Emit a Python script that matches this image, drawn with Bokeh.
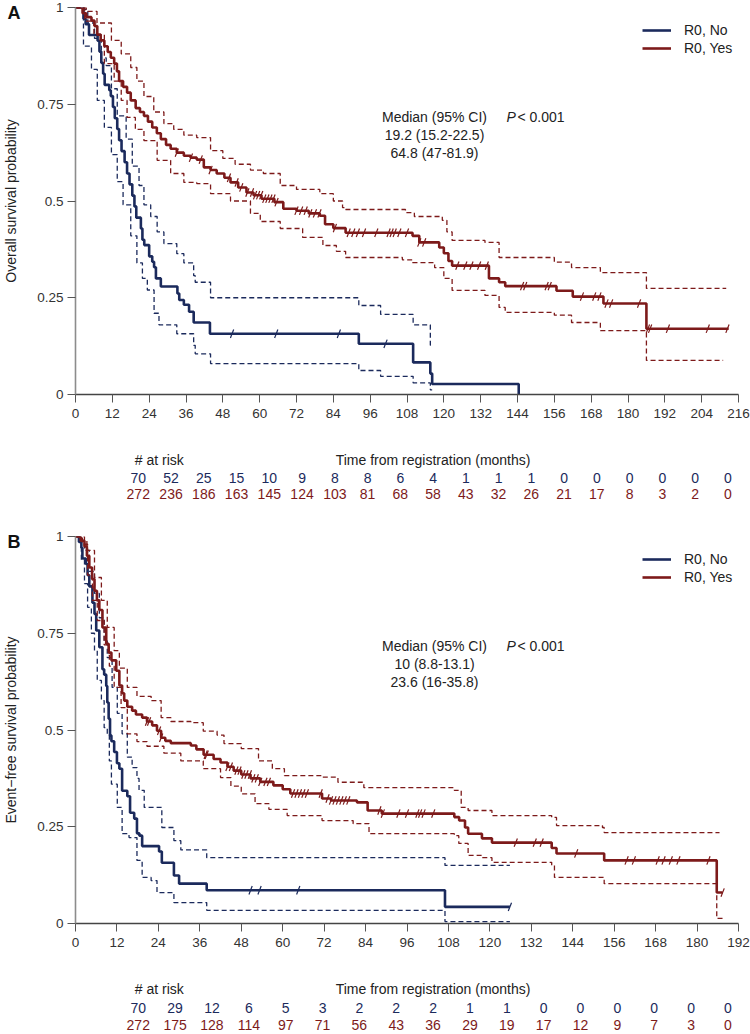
import numpy as np
from bokeh.plotting import figure
from bokeh.layouts import column
from bokeh.models import Range1d, FixedTicker, Legend, LegendItem, Label
from bokeh.embed import file_html
from bokeh.resources import INLINE
from bokeh.core.properties import value

# ---------------- Panel A: overall survival ----------------
A_TICKS = list(range(0, 217, 12))
A_RISK_NO = [70, 52, 25, 15, 10, 9, 8, 8, 6, 4, 1, 1, 1, 0, 0, 0, 0, 0, 0]
A_RISK_YES = [272, 236, 186, 163, 145, 124, 103, 81, 68, 58, 43, 32, 26, 21, 17, 8, 3, 2, 0]
A_MEDIANS = ["19.2 (15.2-22.5)", "64.8 (47-81.9)"]

A_NO_T = [0, 2.6, 3.3, 4.4, 7.2, 7.8, 8.4, 9.0, 9.5, 11.0,
          11.5, 12.2, 12.8, 13.6, 14.2, 15.0, 16.0, 16.8, 17.6, 18.5,
          19.2, 19.8, 21.3, 21.8, 22.4, 24.0, 25.0, 25.6, 26.2, 27.8,
          33.2, 33.8, 35.3, 37.0, 38.5, 43.8, 92.3, 110.0, 115.6, 116.2,
          144.4]
A_NO_S = [1.0, 0.971, 0.957, 0.929, 0.914, 0.886, 0.857, 0.829, 0.800, 0.786,
          0.771, 0.743, 0.714, 0.686, 0.657, 0.629, 0.600, 0.571, 0.543, 0.514,
          0.486, 0.457, 0.429, 0.400, 0.386, 0.357, 0.343, 0.329, 0.300, 0.279,
          0.261, 0.244, 0.232, 0.214, 0.186, 0.157, 0.131, 0.083, 0.054, 0.027,
          0.0]
A_NO_UP_T = [0, 2.6, 4.0, 6.2, 8.4, 10.0, 11.7, 13.6, 16.5, 18.5,
             20.7, 22.3, 24.5, 26.6, 28.8, 33.0, 35.3, 38.5, 39.0, 44.0,
             92.3, 99.4, 110.0, 115.6, 116.2]
A_NO_UP_S = [1.0, 0.995, 0.96, 0.92, 0.87, 0.85, 0.79, 0.72, 0.66, 0.59,
             0.54, 0.49, 0.46, 0.42, 0.39, 0.364, 0.34, 0.307, 0.29, 0.25,
             0.23, 0.207, 0.18, 0.127, 0.127]
A_NO_LO_T = [0, 2.6, 5.2, 7.1, 9.4, 11.7, 13.6, 15.5, 18.0, 20.0,
             21.8, 23.4, 25.6, 27.2, 33.0, 38.5, 39.0, 44.0, 92.3, 99.4,
             110.0, 115.6, 116.2]
A_NO_LO_S = [1.0, 0.90, 0.84, 0.76, 0.69, 0.62, 0.55, 0.49, 0.41, 0.34,
             0.30, 0.27, 0.21, 0.18, 0.157, 0.127, 0.105, 0.08, 0.062, 0.047,
             0.03, 0.012, 0.012]
A_NO_CENS = [51.0, 65.4, 85.8, 101.0]

A_YES_T = [0, 2.3, 3.5, 5.2, 6.2, 7.1, 8.2, 9.4, 10.5, 11.5,
           12.6, 13.5, 14.2, 15.5, 16.8, 18.0, 19.6, 21.0, 22.3, 23.6,
           25.0, 26.5, 27.8, 29.5, 31.0, 33.0, 35.3, 37.5, 39.5, 41.8,
           44.0, 46.0, 48.5, 50.5, 53.0, 55.7, 58.0, 60.6, 64.8, 67.7,
           72.0, 76.0, 79.6, 81.3, 84.0, 88.0, 109.8, 112.0, 118.5, 120.0,
           121.5, 122.7, 134.7, 138.0, 140.0, 156.7, 162.0, 172.0, 186.0, 212.8]
A_YES_S = [1.0, 0.985, 0.975, 0.966, 0.952, 0.93, 0.915, 0.90, 0.885, 0.87,
           0.855, 0.835, 0.81, 0.795, 0.78, 0.76, 0.74, 0.73, 0.72, 0.705,
           0.69, 0.675, 0.66, 0.645, 0.635, 0.625, 0.617, 0.612, 0.607, 0.587,
           0.58, 0.571, 0.56, 0.548, 0.535, 0.522, 0.515, 0.506, 0.497, 0.48,
           0.475, 0.468, 0.462, 0.44, 0.43, 0.418, 0.41, 0.393, 0.38, 0.365,
           0.345, 0.333, 0.30, 0.29, 0.28, 0.268, 0.253, 0.235, 0.17, 0.17]
A_YES_UP_T = [0, 3.5, 7.0, 11.7, 14.9, 18.0, 20.0, 22.3, 25.5, 28.8,
              32.0, 35.3, 39.5, 44.0, 48.0, 52.0, 57.0, 61.2, 66.7, 72.0,
              79.6, 84.0, 87.0, 88.0, 107.5, 110.4, 119.5, 121.0, 122.7, 133.4,
              138.0, 156.0, 161.6, 171.0, 186.0, 212.0]
A_YES_UP_S = [1.0, 0.99, 0.96, 0.915, 0.88, 0.845, 0.81, 0.77, 0.73, 0.70,
              0.685, 0.67, 0.664, 0.63, 0.61, 0.595, 0.58, 0.571, 0.54, 0.53,
              0.519, 0.50, 0.483, 0.478, 0.47, 0.46, 0.45, 0.42, 0.398, 0.393,
              0.354, 0.342, 0.328, 0.315, 0.274, 0.274]
A_YES_LO_T = [0, 3.0, 6.0, 9.4, 12.6, 14.9, 16.8, 19.5, 22.3, 26.6,
              31.0, 35.3, 39.5, 44.0, 50.5, 57.0, 60.2, 66.7, 74.0, 80.6,
              85.0, 88.0, 106.5, 109.8, 117.0, 120.0, 122.7, 133.4, 138.0, 140.0,
              156.0, 161.6, 171.0, 186.0, 211.0]
A_YES_LO_S = [1.0, 0.965, 0.93, 0.855, 0.81, 0.76, 0.716, 0.685, 0.656, 0.605,
              0.571, 0.548, 0.545, 0.519, 0.50, 0.468, 0.447, 0.429, 0.406, 0.385,
              0.37, 0.354, 0.348, 0.341, 0.328, 0.30, 0.269, 0.256, 0.225, 0.212,
              0.205, 0.186, 0.165, 0.088, 0.088]
A_YES_CENS = [33, 37.6, 40.8, 44, 50, 52.5, 54, 56, 57.5, 58.5, 59.5, 60.5, 61.5,
              62.5, 63.5, 64.5, 65.5, 72, 73.5, 75, 76.5, 78, 79.5, 84.5, 89, 90.5,
              92, 94, 98, 102, 103, 104, 105.5, 108, 112, 113.6, 124.4, 127, 129,
              131.5, 134, 145.5, 146.5, 153.5, 154.5, 165, 169, 170.7, 173, 174.5,
              183.6, 186.5, 187.2, 193, 206, 212.4]

# ---------------- Panel B: event-free survival ----------------
B_TICKS = list(range(0, 193, 12))
B_RISK_NO = [70, 29, 12, 6, 5, 3, 2, 2, 2, 1, 1, 0, 0, 0, 0, 0, 0]
B_RISK_YES = [272, 175, 128, 114, 97, 71, 56, 43, 36, 29, 19, 17, 12, 9, 7, 3, 0]
B_MEDIANS = ["10 (8.8-13.1)", "23.6 (16-35.8)"]

B_NO_T = [0, 1.0, 1.7, 2.0, 3.0, 3.5, 4.0, 4.9, 5.5, 6.0,
          6.9, 7.8, 8.3, 8.9, 9.2, 9.6, 10.0, 10.4, 11.2, 12.0,
          12.7, 13.5, 15.0, 15.8, 17.0, 17.8, 18.5, 19.3, 24.2, 25.0,
          28.5, 30.0, 38.0, 107.0, 125.8]
B_NO_S = [1.0, 0.986, 0.971, 0.943, 0.929, 0.90, 0.871, 0.829, 0.80, 0.757,
          0.714, 0.657, 0.643, 0.614, 0.571, 0.529, 0.486, 0.471, 0.443, 0.414,
          0.40, 0.343, 0.329, 0.286, 0.271, 0.233, 0.227, 0.20, 0.186, 0.157,
          0.124, 0.103, 0.086, 0.043, 0.043]
B_NO_UP_T = [0, 1.7, 2.6, 4.0, 5.5, 6.9, 8.3, 9.2, 10.6, 12.1,
             13.5, 15.0, 16.4, 17.8, 18.4, 19.9, 25.0, 28.5, 30.5, 38.0,
             107.0, 125.8]
B_NO_UP_S = [1.0, 0.99, 0.964, 0.91, 0.853, 0.79, 0.73, 0.687, 0.61, 0.543,
             0.49, 0.43, 0.403, 0.375, 0.344, 0.30, 0.248, 0.214, 0.19, 0.17,
             0.15, 0.15]
B_NO_LO_T = [0, 1.7, 2.6, 3.5, 4.6, 5.5, 6.3, 7.5, 8.3, 9.2,
             9.8, 10.4, 12.1, 13.5, 15.5, 17.8, 19.3, 21.9, 23.6, 28.5,
             38.0, 107.0, 125.8]
B_NO_LO_S = [1.0, 0.94, 0.878, 0.817, 0.75, 0.705, 0.628, 0.576, 0.506, 0.49,
             0.42, 0.36, 0.30, 0.232, 0.222, 0.163, 0.119, 0.111, 0.08, 0.054,
             0.034, 0.005, 0.005]
B_NO_CENS = [50.7, 53.3, 64.5, 125.8]

B_YES_T = [0, 1.5, 2.6, 3.3, 4.0, 4.8, 5.5, 6.2, 6.9, 7.8,
           8.9, 9.6, 10.4, 11.8, 12.7, 13.5, 14.1, 15.0, 16.4, 17.5,
           19.3, 20.7, 22.2, 23.6, 24.8, 26.0, 27.6, 33.4, 35.0, 37.1,
           40.0, 42.0, 44.0, 45.8, 48.0, 50.7, 53.5, 57.3, 60.0, 62.2,
           71.4, 74.0, 81.5, 84.6, 88.7, 109.7, 111.1, 112.8, 113.7, 117.7,
           120.6, 137.9, 139.3, 153.1, 185.7, 187.4]
B_YES_S = [1.0, 0.989, 0.974, 0.95, 0.92, 0.89, 0.86, 0.835, 0.81, 0.765,
           0.723, 0.70, 0.68, 0.653, 0.615, 0.595, 0.576, 0.56, 0.55, 0.54,
           0.532, 0.522, 0.512, 0.498, 0.48, 0.472, 0.466, 0.46, 0.45, 0.436,
           0.425, 0.416, 0.405, 0.395, 0.385, 0.375, 0.366, 0.357, 0.347, 0.336,
           0.323, 0.318, 0.313, 0.292, 0.284, 0.275, 0.266, 0.248, 0.232, 0.22,
           0.209, 0.195, 0.181, 0.163, 0.08, 0.08]
B_YES_UP_T = [0, 2.6, 3.3, 5.5, 7.5, 9.2, 11.2, 12.7, 15.0, 17.8,
              21.9, 24.8, 27.6, 33.4, 37.0, 41.0, 43.0, 48.0, 53.0, 57.0,
              60.5, 71.4, 76.0, 83.5, 109.7, 111.7, 113.7, 120.6, 137.9, 139.3,
              152.6, 153.1, 186.5]
B_YES_UP_S = [1.0, 0.99, 0.964, 0.894, 0.835, 0.765, 0.705, 0.66, 0.61, 0.587,
              0.576, 0.532, 0.522, 0.519, 0.497, 0.487, 0.465, 0.452, 0.42, 0.40,
              0.382, 0.378, 0.365, 0.351, 0.344, 0.30, 0.292, 0.279, 0.274, 0.253,
              0.248, 0.235, 0.235]
B_YES_LO_T = [0, 2.0, 3.5, 4.9, 6.3, 8.3, 9.8, 11.2, 13.2, 15.0,
              17.8, 20.7, 25.6, 30.5, 37.0, 42.0, 45.0, 48.0, 52.0, 56.0,
              61.3, 71.4, 80.4, 85.0, 109.7, 111.0, 113.7, 117.7, 120.6, 137.9,
              138.7, 153.1, 185.7, 187.4]
B_YES_LO_S = [1.0, 0.98, 0.90, 0.835, 0.783, 0.72, 0.665, 0.61, 0.558, 0.49,
              0.47, 0.458, 0.44, 0.42, 0.40, 0.377, 0.355, 0.335, 0.31, 0.295,
              0.279, 0.266, 0.258, 0.232, 0.227, 0.207, 0.176, 0.17, 0.158, 0.15,
              0.119, 0.103, 0.013, 0.013]
B_YES_CENS = [20.7, 21.3, 24.2, 24.8, 37.7, 38, 44, 45, 46.6, 47.5, 48.6, 49.5,
              50.5, 51.5, 52.5, 53.5, 55, 56, 63, 64, 65, 66, 67, 71, 73, 74, 75,
              76, 77, 78, 79, 88, 89, 93.5, 96, 99, 99.8, 100.8, 103.6, 127.5, 133,
              135, 145, 159.6, 161.7, 168.6, 170.3, 172.4, 174.6, 183.3, 187.4]

GROUPS = ["R0, No", "R0, Yes"]

# ---------------- styling / layout ----------------
NAVY = "#1b2a5c"
RED = "#7d1a1a"
TXT = "#222222"
FONT = "Liberation Sans"
W = 750
LEFT = 71
RIGHT = 12
FRAME_H = 387
BOTTOM = 32


def step_at(t, s, q):
    t = np.asarray(t, dtype=float)
    s = np.asarray(s, dtype=float)
    idx = np.searchsorted(t, np.asarray(q, dtype=float), side="right") - 1
    return s[np.clip(idx, 0, len(s) - 1)]


def km_panel(xmax, ticks, curves, ylabel, letter, top, medians):
    p = figure(width=W, height=top + FRAME_H + BOTTOM,
               x_range=Range1d(0, xmax), y_range=Range1d(0, 1),
               output_backend="svg", toolbar_location=None,
               min_border_left=LEFT, min_border_right=RIGHT,
               min_border_top=top, min_border_bottom=BOTTOM)
    p.outline_line_color = None
    p.grid.visible = False
    p.background_fill_color = "white"
    p.border_fill_color = "white"

    # panel letter as the (left-shifted) title
    p.title.text = letter
    p.title.align = "left"
    p.title.offset = -LEFT + 3
    p.title.standoff = -30
    p.title.text_font = FONT
    p.title.text_font_size = "18px"
    p.title.text_font_style = "bold"
    p.title.text_color = "#111111"

    p.xaxis.ticker = FixedTicker(ticks=ticks)
    p.yaxis.ticker = FixedTicker(ticks=[0, 0.25, 0.5, 0.75, 1])
    p.yaxis.major_label_overrides = {0: "0", 0.25: "0.25", 0.5: "0.5", 0.75: "0.75", 1: "1"}
    for ax in (p.xaxis, p.yaxis):
        ax.major_tick_in = 0
        ax.major_tick_out = 8
        ax.minor_tick_out = 0
        ax.minor_tick_in = 0
        ax.major_tick_line_color = "#555555"
        ax.major_label_text_font = FONT
        ax.major_label_text_font_size = "13.5px"
        ax.major_label_text_color = "#333333"
    p.xaxis.axis_line_color = "#444444"
    p.xaxis.axis_line_width = 1.4
    p.xaxis.major_label_standoff = 6
    p.yaxis.axis_line_color = "#8c8c8c"
    p.yaxis.axis_line_width = 1.6
    p.yaxis.major_label_standoff = 4
    p.yaxis.axis_label = ylabel
    p.yaxis.axis_label_text_font = FONT
    p.yaxis.axis_label_text_font_size = "14px"
    p.yaxis.axis_label_text_font_style = "normal"
    p.yaxis.axis_label_text_color = TXT
    p.yaxis.axis_label_standoff = 15

    renderers = []
    for (t, s, ut, us, lt, ls, cens), color in zip(curves, [NAVY, RED]):
        p.step(x=ut, y=us, mode="after", line_color=color, line_width=1.3, line_dash="5 3")
        p.step(x=lt, y=ls, mode="after", line_color=color, line_width=1.3, line_dash="5 3")
        r = p.step(x=t, y=s, mode="after", line_color=color, line_width=2.6)
        renderers.append(r)
        p.scatter(x=cens, y=step_at(t, s, cens), marker="dash", size=9, angle=1.2,
                  line_color=color, line_width=1.2)

    legend = Legend(items=[LegendItem(label=g, renderers=[r]) for g, r in zip(GROUPS, renderers)],
                    location=(567, 337), padding=0, margin=0, spacing=0,
                    glyph_width=29, glyph_height=18, label_height=18, label_standoff=13,
                    border_line_color=None, background_fill_alpha=0,
                    label_text_font=FONT, label_text_font_size="14px", label_text_color=TXT)
    p.add_layout(legend)

    lines = ["Median (95% CI)"] + medians
    for txt, y in zip(lines, [278, 260, 242]):
        p.add_layout(Label(x=359, y=y, x_units="screen", y_units="screen", text=txt,
                           text_align="center", text_baseline="middle", text_font=FONT,
                           text_font_size="14px", text_color=TXT))
    p.add_layout(Label(x=431, y=278, x_units="screen", y_units="screen", text="P",
                       text_align="left", text_baseline="middle", text_font=FONT,
                       text_font_style="italic", text_font_size="14px", text_color=TXT))
    p.add_layout(Label(x=442, y=278, x_units="screen", y_units="screen", text="< 0.001",
                       text_align="left", text_baseline="middle", text_font=FONT,
                       text_font_size="14px", text_color=TXT))
    return p


def risk_table(xmax, ticks, risk_no, risk_yes, height, rows):
    scale = (W - LEFT - RIGHT) / xmax
    t = figure(width=W, height=height,
               x_range=Range1d(-LEFT / scale, xmax + RIGHT / scale),
               y_range=Range1d(height, 0),
               output_backend="svg", toolbar_location=None,
               x_axis_location=None, y_axis_location=None, min_border=0)
    t.outline_line_color = None
    t.grid.visible = False
    t.text(x=[-4 / scale], y=[rows[0]], text=["# at risk"], text_align="left",
           text_baseline="middle", text_font=value(FONT), text_font_size="14px", text_color=TXT)
    t.text(x=[xmax / 2], y=[rows[0]], text=["Time from registration (months)"], text_align="center",
           text_baseline="middle", text_font=value(FONT), text_font_size="14px", text_color=TXT)
    t.text(x=ticks, y=[rows[1]] * len(ticks), text=[str(v) for v in risk_no], text_align="center",
           text_baseline="middle", text_font=value(FONT), text_font_size="14px", text_color=NAVY)
    t.text(x=ticks, y=[rows[2]] * len(ticks), text=[str(v) for v in risk_yes], text_align="center",
           text_baseline="middle", text_font=value(FONT), text_font_size="14px", text_color=RED)
    return t


curves_a = [
    (A_NO_T, A_NO_S, A_NO_UP_T, A_NO_UP_S, A_NO_LO_T, A_NO_LO_S, A_NO_CENS),
    (A_YES_T, A_YES_S, A_YES_UP_T, A_YES_UP_S, A_YES_LO_T, A_YES_LO_S, A_YES_CENS),
]
curves_b = [
    (B_NO_T, B_NO_S, B_NO_UP_T, B_NO_UP_S, B_NO_LO_T, B_NO_LO_S, B_NO_CENS),
    (B_YES_T, B_YES_S, B_YES_UP_T, B_YES_UP_S, B_YES_LO_T, B_YES_LO_S, B_YES_CENS),
]

pa = km_panel(216, A_TICKS, curves_a, "Overall survival probability", "A", 7, A_MEDIANS)
ta = risk_table(216, A_TICKS, A_RISK_NO, A_RISK_YES, 80, [33, 51, 67])
pb = km_panel(192, B_TICKS, curves_b, "Event\u2212free survival probability", "B", 30, B_MEDIANS)
tb = risk_table(192, B_TICKS, B_RISK_NO, B_RISK_YES, 79, [33, 52, 69])

layout = column(pa, ta, pb, tb, spacing=0)
open("out.html", "w").write(file_html(layout, INLINE))
